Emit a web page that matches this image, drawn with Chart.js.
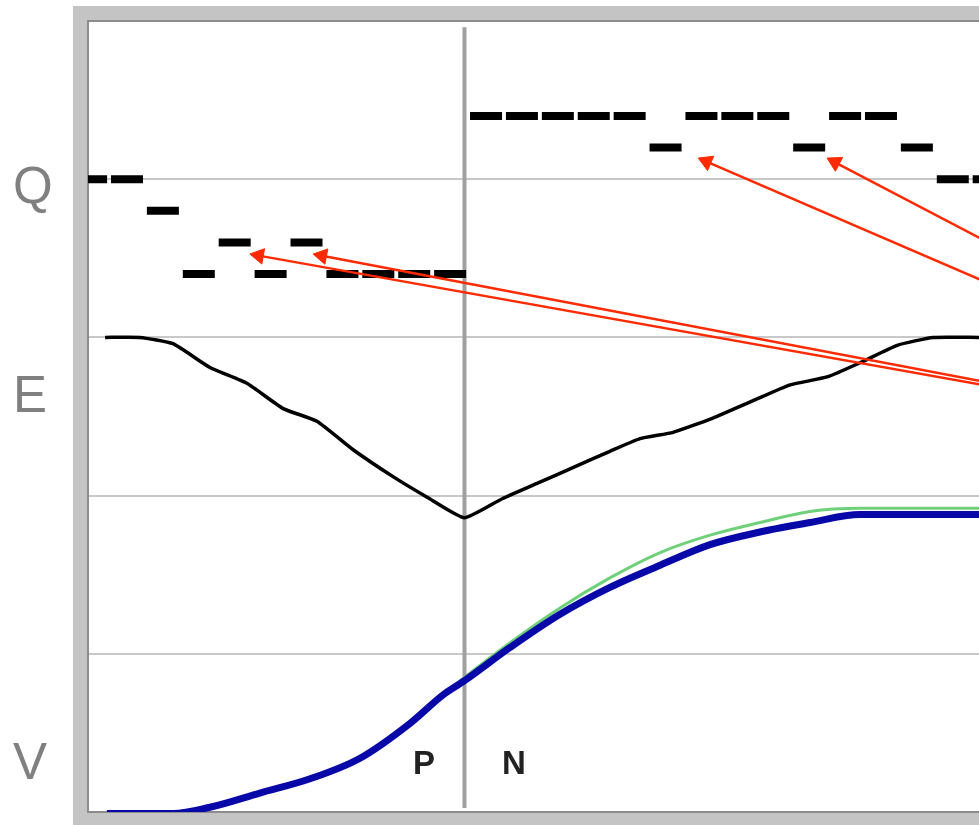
<!DOCTYPE html>
<html>
<head>
<meta charset="utf-8">
<script src="https://cdn.jsdelivr.net/npm/chart.js@4"></script>
<style>
  html, body { margin: 0; padding: 0; background: #fff; overflow: hidden; }
  canvas { display: block; }
</style>
</head>
<body>
<canvas id="chart" width="979" height="825"></canvas>
<script>
// Q: one dash per time step
const qX = [0,1,2,3,4,5,6,7,8,9,10,11,12,13,14,15,16,17,18,19,20,21,22,23,24,25];
const qValues = [4.0,4.0,3.8,3.4,3.6,3.4,3.6,3.4,3.4,3.4,3.4,4.4,4.4,4.4,4.4,4.4,4.2,4.4,4.4,4.4,4.2,4.4,4.4,4.2,4.0,4.0];

// E curve
const eX = [0.39,1.36,2.28,3.31,4.34,5.35,6.29,7.30,8.41,9.36,10.4,11.45,12.45,13.45,14.45,15.29,16.21,17.32,18.44,19.47,20.50,21.42,22.45,23.45,24.73];
const eValues = [3.0,3.0,2.96,2.81,2.71,2.55,2.47,2.29,2.12,1.99,1.86,1.98,2.08,2.18,2.28,2.36,2.40,2.49,2.60,2.70,2.75,2.84,2.95,3.0,3.0];

// V curves
const vX = [0.44,2.28,3.31,4.70,6.10,7.49,8.88,9.80,10.4,11.67,13.06,14.45,15.85,17.24,18.63,20.02,21.42,24.73];
const blueValues = [-0.01,-0.01,0.03,0.12,0.21,0.34,0.56,0.74,0.83,1.04,1.25,1.42,1.56,1.69,1.77,1.83,1.88,1.88];
const greenValues = [-0.01,-0.01,0.03,0.12,0.21,0.34,0.56,0.74,0.85,1.07,1.29,1.48,1.64,1.75,1.83,1.90,1.92,1.92];

// divider between P and N
const dividerX = 10.4;
const dividerY = [0.025, 4.96];

// arrows: [tail, head]
const arrows = [
  [[25.32, 3.56], [20.72, 4.107]],
  [[25.32, 3.31], [17.14, 4.111]],
  [[25.32, 2.68], [4.67, 3.517]],
  [[25.32, 2.70], [6.43, 3.516]]
];

// axis labels and region labels
const axisNames = ["Q", "E", "V"];
const axisValues = [3.94, 2.62, 0.30];
const regionNames = ["P", "N"];
const regionX = [9.27, 11.78];
const regionY = [0.30, 0.30];

function toPoints(xs, ys) {
  return xs.map((x, i) => ({x: x, y: ys[i]}));
}

function arrowRotation(ctx) {
  const d = ctx.dataset.data;
  const sx = ctx.chart.scales.x, sy = ctx.chart.scales.y;
  const dx = sx.getPixelForValue(d[1].x) - sx.getPixelForValue(d[0].x);
  const dy = sy.getPixelForValue(d[1].y) - sy.getPixelForValue(d[0].y);
  return Math.atan2(dy, dx) * 180 / Math.PI + 90;
}

function noPadding(scale) {
  scale.paddingTop = 0;
  scale.paddingBottom = 0;
  scale.paddingLeft = 0;
  scale.paddingRight = 0;
}

const framePlugin = {
  id: "frame",
  beforeDraw(chart) {
    const ctx = chart.ctx, a = chart.chartArea;
    ctx.save();
    ctx.fillStyle = "#c4c4c4";
    ctx.fillRect(a.left - 15, a.top - 15, a.right - a.left + 40, a.bottom - a.top + 40);
    ctx.fillStyle = "#ffffff";
    ctx.fillRect(a.left, a.top, a.right - a.left + 20, a.bottom - a.top);
    ctx.restore();
  },
  beforeDatasetsDraw(chart) {
    const ctx = chart.ctx, a = chart.chartArea;
    ctx.save();
    ctx.strokeStyle = "#8c8c8c";
    ctx.lineWidth = 2;
    ctx.strokeRect(a.left, a.top, a.right - a.left + 20, a.bottom - a.top);
    ctx.restore();
  }
};

const regionPlugin = {
  id: "regionLabels",
  afterDatasetsDraw(chart) {
    const ctx = chart.ctx, sx = chart.scales.x, sy = chart.scales.y;
    ctx.save();
    ctx.font = "bold 33px 'Liberation Sans', Arial, sans-serif";
    ctx.fillStyle = "#222222";
    ctx.textAlign = "center";
    ctx.textBaseline = "middle";
    regionNames.forEach((t, i) => {
      ctx.fillText(t, sx.getPixelForValue(regionX[i]), sy.getPixelForValue(regionY[i]));
    });
    ctx.restore();
  }
};

let datasets = [];
arrows.forEach(a => {
  datasets.push({
    data: [{x: a[0][0], y: a[0][1]}, {x: a[1][0], y: a[1][1]}],
    showLine: true,
    borderColor: "#ff2a00",
    borderWidth: 2.5,
    pointRadius: [0, 9],
    pointStyle: "triangle",
    pointBackgroundColor: "#ff2a00",
    pointBorderColor: "#ff2a00",
    pointBorderWidth: 1,
    pointRotation: arrowRotation
  });
});
datasets.push({
  data: toPoints(vX, blueValues),
  showLine: true,
  borderColor: "#0808a8",
  borderWidth: 7,
  pointRadius: 0,
  cubicInterpolationMode: "monotone"
});
datasets.push({
  data: toPoints(vX, greenValues),
  showLine: true,
  borderColor: "#6fd07a",
  borderWidth: 3,
  pointRadius: 0,
  cubicInterpolationMode: "monotone"
});
datasets.push({
  data: toPoints(eX, eValues),
  showLine: true,
  borderColor: "#000000",
  borderWidth: 3.5,
  pointRadius: 0,
  tension: 0.15
});
datasets.push({
  data: toPoints(qX, qValues),
  showLine: false,
  pointStyle: "line",
  pointRadius: 16,
  pointBorderWidth: 8,
  pointBorderColor: "#000000"
});
datasets.push({
  data: [{x: dividerX, y: dividerY[0]}, {x: dividerX, y: dividerY[1]}],
  showLine: true,
  borderColor: "#a0a0a0",
  borderWidth: 4,
  pointRadius: 0
});

new Chart(document.getElementById("chart"), {
  type: "scatter",
  data: {datasets: datasets},
  plugins: [framePlugin, regionPlugin],
  options: {
    responsive: false,
    animation: false,
    events: [],
    layout: {autoPadding: false, padding: {left: 13, top: 21, right: 0, bottom: 13}},
    plugins: {legend: {display: false}, tooltip: {enabled: false}},
    scales: {
      x: {
        type: "linear",
        min: -0.086,
        max: 24.73,
        display: false,
        afterFit: noPadding
      },
      y: {
        position: "left",
        min: 0,
        max: 5,
        ticks: {display: false, stepSize: 1},
        grid: {color: "#c8c8c8", lineWidth: 2, drawTicks: false},
        border: {display: false},
        afterFit: (scale) => { scale.width = 0; noPadding(scale); }
      },
      yLabels: {
        position: "left",
        min: 0,
        max: 5,
        grid: {display: false},
        border: {display: false},
        afterBuildTicks: (scale) => { scale.ticks = axisValues.map(v => ({value: v})); },
        afterFit: (scale) => { scale.width = 75; noPadding(scale); },
        ticks: {
          autoSkip: false,
          crossAlign: "far",
          padding: 0,
          color: "#808080",
          font: {family: "'Liberation Sans', Arial, sans-serif", size: 51},
          callback: (value, index) => axisNames[index]
        }
      }
    }
  }
});
</script>
</body>
</html>
